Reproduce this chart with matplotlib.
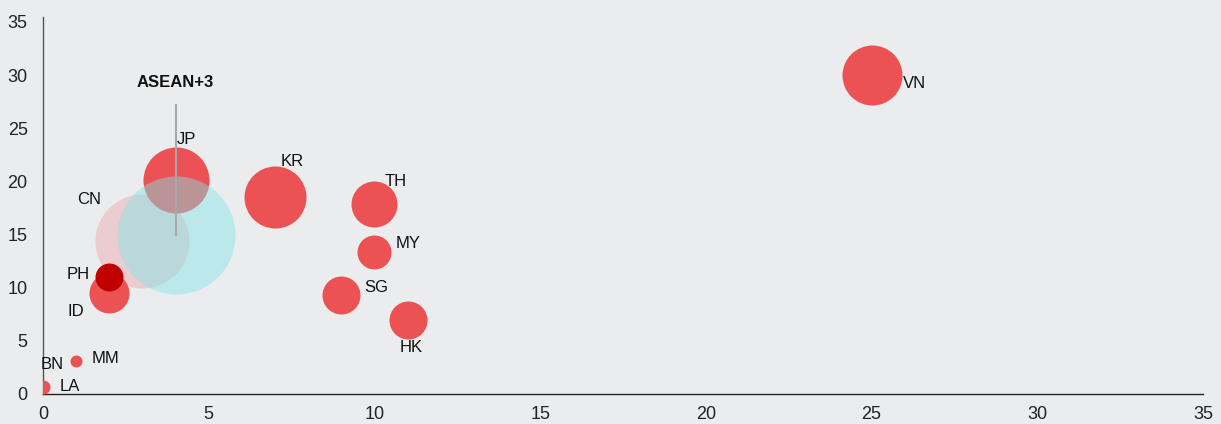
import matplotlib
matplotlib.use("Agg")
import matplotlib.pyplot as plt

# ---- data ----
countries = ["VN", "JP", "KR", "TH", "MY", "SG", "HK", "ID", "PH", "MM", "LA", "BN"]
x_vals =    [25.0, 4.0, 7.0, 10.0, 10.0, 9.0, 11.0, 2.0, 2.0, 1.0, 0.0, 0.0]
y_vals =    [30.0, 20.1, 18.5, 17.9, 13.4, 9.3, 7.0, 9.5, 11.0, 3.1, 0.7, 0.0]
bubble =    [900, 1089, 961, 529, 289, 361, 361, 400, 196, 36, 49, 0]

cn_x, cn_y, cn_size = 3.0, 14.4, 2209
asean_x, asean_y, asean_size = 4.0, 15.0, 3481
asean_range = [15.0, 27.2]

x_ticks = [0, 5, 10, 15, 20, 25, 30, 35]
y_ticks = [0, 5, 10, 15, 20, 25, 30, 35]

# ---- label placement (layout) ----
label_pos = {
    "VN": (25.95, 29.2), "JP": (4.04, 23.9), "KR": (7.18, 21.9), "TH": (10.3, 20.0),
    "MY": (10.65, 14.2), "SG": (9.7, 10.0), "HK": (10.77, 4.4), "ID": (0.75, 7.8),
    "PH": (0.72, 11.2), "MM": (1.48, 3.3), "LA": (0.51, 0.66), "BN": (-0.06, 2.8),
    "CN": (1.03, 18.3),
}

RED = "#EC5254"
DARKRED = "#C00000"
BG = "#EBECEE"
plt.rcParams['font.family'] = ['Liberation Sans', 'DejaVu Sans']

fig = plt.figure(figsize=(12.21, 4.24), dpi=100, facecolor=BG)
ax = fig.add_axes([43/1221, 30/424, 1160/1221, 377/424], facecolor=BG)
ax.set_xlim(0, 35)
ax.set_ylim(0, 35.47)

def s_of(v):
    return 2.0736 * v

# JP first (under cyan)
jp = countries.index("JP")
ax.scatter([x_vals[jp]], [y_vals[jp]], s=s_of(bubble[jp]), color=RED, linewidths=0, zorder=2)
# CN pink
ax.scatter([cn_x], [cn_y], s=s_of(cn_size), color=RED, alpha=0.2, linewidths=0, zorder=3)
# ASEAN+3 cyan
ax.scatter([asean_x], [asean_y], s=s_of(asean_size), color="#7FE5E8", alpha=0.45, linewidths=0, zorder=4)
ax.plot([asean_x, asean_x], asean_range, color="#A9A9A9", lw=1.5, zorder=5)

for i, c in enumerate(countries):
    if c == "JP" or bubble[i] == 0:
        continue
    col = DARKRED if c == "PH" else RED
    z = 7 if c == "PH" else 6
    ax.scatter([x_vals[i]], [y_vals[i]], s=s_of(bubble[i]), color=col, linewidths=0, zorder=z)

for c, (lx, ly) in label_pos.items():
    ax.text(lx, ly, c, fontsize=12, color="#111111", ha="left", va="center", zorder=10)

ax.text(asean_x, 29.35, "ASEAN+3", fontsize=12, fontweight="bold", color="#111111",
        ha="center", va="center", zorder=10)

for s in ["top", "right"]:
    ax.spines[s].set_visible(False)
ax.spines["left"].set_color("#555555")
ax.spines["bottom"].set_color("#222222")
ax.spines["left"].set_linewidth(1)
ax.spines["bottom"].set_linewidth(1)

ax.set_xticks(x_ticks)
ax.set_yticks(y_ticks)
ax.tick_params(length=0, labelsize=13, colors="#222222")
ax.tick_params(axis="x", pad=8.5)
ax.tick_params(axis="y", pad=11)

fig.savefig("out.png", dpi=100, facecolor=BG)
